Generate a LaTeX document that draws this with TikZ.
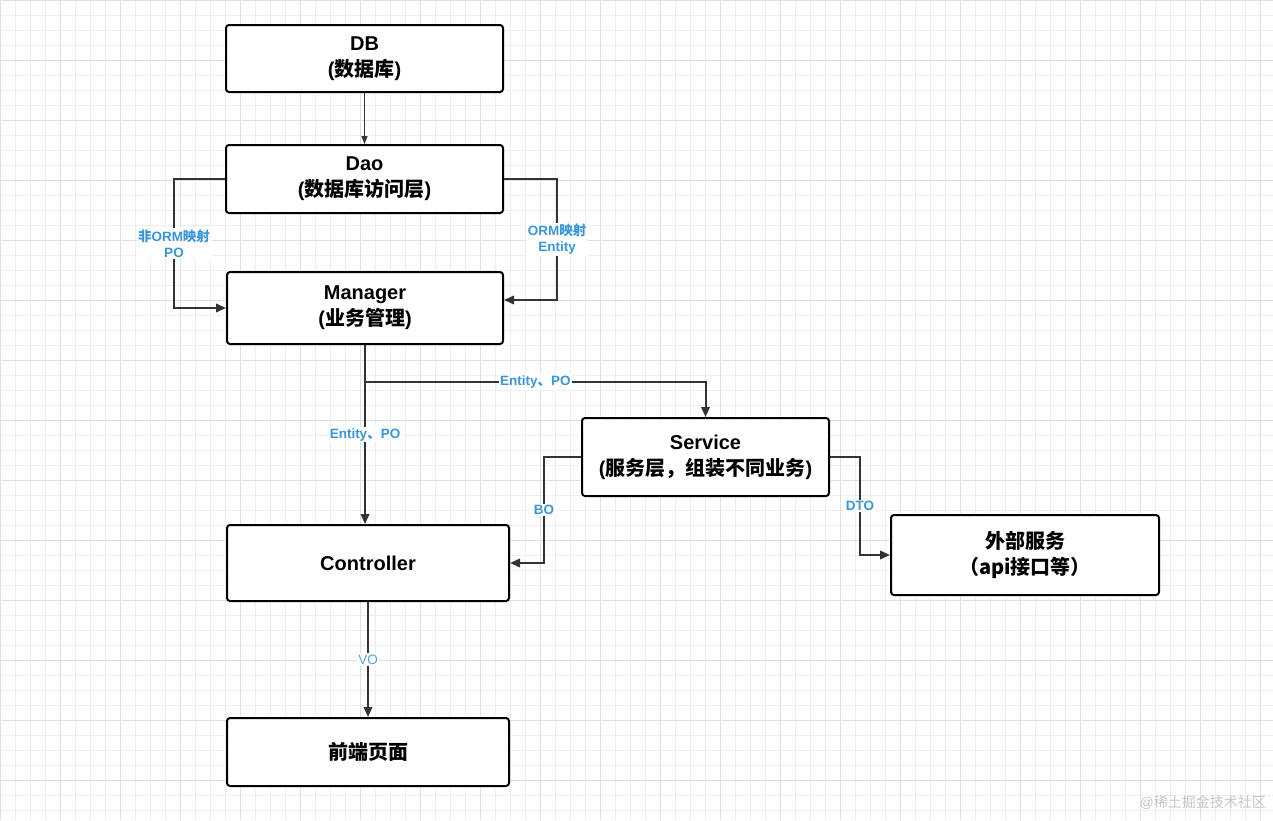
\documentclass[tikz,border=0pt]{standalone}
\usepackage{fontspec}
\setmainfont{Liberation Sans}
\newfontfamily\cjk{Noto Sans CJK SC}
\usetikzlibrary{arrows.meta}
\definecolor{lbl}{HTML}{3A96D8}
\definecolor{ln}{HTML}{333333}
\definecolor{gminor}{HTML}{EEEEEE}
\definecolor{gmajor}{HTML}{E0E0E0}
\newcommand\zh[1]{{\cjk #1}}
\begin{document}
\begin{tikzpicture}[x=1pt,y=-1pt,
 box/.style={draw=black, line width=2pt, rounded corners=3pt, fill=white, align=center,
   font=\bfseries\fontsize{20}{26}\selectfont, inner sep=0pt},
 conn/.style={draw=ln, line width=2pt, -{Triangle[length=10pt,width=8.5pt]}},
 lab/.style={fill=white, text=lbl, font=\bfseries\fontsize{13.5}{16}\selectfont, inner sep=1.5pt, align=center},
]
\useasboundingbox (0,0) rectangle (1273,820);
\fill[white] (0,0) rectangle (1273,820);
\foreach \x in {0,15,...,1273} \draw[gminor, line width=0.8pt] (\x,0) -- (\x,820);
\foreach \y in {0,15,...,820} \draw[gminor, line width=0.8pt] (0,\y) -- (1273,\y);
\foreach \x in {0,60,...,1273} \draw[gmajor, line width=0.9pt] (\x,0) -- (\x,820);
\foreach \y in {0,60,...,820} \draw[gmajor, line width=0.9pt] (0,\y) -- (1273,\y);

\node[box, minimum width=277, minimum height=67] (db) at (364.5,58.5) {DB\\(\zh{数据库})};
\node[box, minimum width=277, minimum height=68] (dao) at (364.5,179) {Dao\\(\zh{数据库访问层})};
\node[box, minimum width=276, minimum height=72] (mgr) at (365,308) {Manager\\(\zh{业务管理})};
\node[box, minimum width=247, minimum height=78] (svc) at (705.5,457) {Service\\(\zh{服务层，组装不同业务})};
\node[box, minimum width=282, minimum height=76] (ctl) at (368,563) {Controller};
\node[box, minimum width=268, minimum height=80] (ext) at (1025,555) {\zh{外部服务}\\\zh{（api接口等）}};
\node[box, minimum width=282, minimum height=68] (fe) at (368,752) {\zh{前端页面}};

\draw[draw=ln, line width=1.2pt, -{Triangle[length=8pt,width=6pt]}] (db.south) -- (dao.north);
\draw[conn] (dao.west) -- ++(-51,0) |- node[lab, pos=0.25] {\zh{非}ORM\zh{映射}\\PO} (mgr.west);
\draw[conn] (dao.east) -- ++(53,0) |- node[lab, pos=0.25] {ORM\zh{映射}\\Entity} ([yshift=8pt]mgr.east);
\draw[conn] (mgr.south) -- node[lab, pos=0.5] {Entity\zh{、}PO} (mgr.south |- ctl.north);
\coordinate (br) at ([yshift=-37pt]mgr.south);
\draw[conn] (br) -| node[lab, pos=0.25] {Entity\zh{、}PO} (svc.north);
\draw[conn] (svc.west) -- ++(-37,0) |- node[lab, pos=0.25] {BO} (ctl.east);
\draw[conn] (svc.east) -- ++(30,0) |- node[lab, pos=0.25] {DTO} (ext.west);
\draw[conn] (ctl.south) -- node[lab, pos=0.5, font=\fontsize{13.5}{16}\selectfont, text=lbl!85] {VO} (fe.north);

\node[text=gray!45, font=\fontsize{14}{14}\selectfont, anchor=east, inner sep=0pt] (wm) at (1266,803) {@\zh{稀土掘金技术社区}};
\end{tikzpicture}
\end{document}
